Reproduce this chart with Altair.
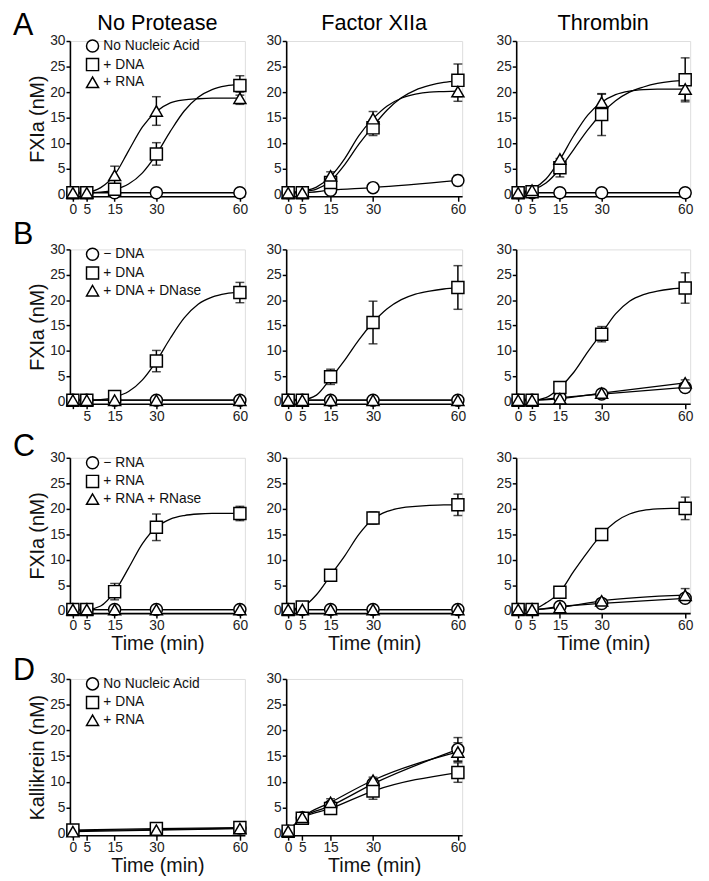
import altair as alt
import pandas as pd

# ---------------- data ----------------
TIMES = [0, 5, 15, 30, 60]
TIMES_D1 = [0, 30, 60]
CURVE_T = [0, 5, 10, 15, 20, 25, 30, 35, 40, 45, 50, 55, 60]
X_TICKS = [0, 5, 15, 30, 60]
Y_TICKS = [0, 5, 10, 15, 20, 25, 30]

COL_TITLES = ["No Protease", "Factor XIIa", "Thrombin"]
ROW_LETTERS = ["A", "B", "C", "D"]
LEG_A = ["No Nucleic Acid", "+ DNA", "+ RNA"]
LEG_B = ["\u2212 DNA", "+ DNA", "+ DNA + DNase"]
LEG_C = ["\u2212 RNA", "+ RNA", "+ RNA + RNase"]
LEG_D = ["No Nucleic Acid", "+ DNA", "+ RNA"]
Y_TITLE_FXIA = "FXIa (nM)"
Y_TITLE_KAL = "Kallikrein (nM)"
X_TITLE = "Time (min)"

FLAT = [0.3, 0.3, 0.3, 0.3, 0.3]
NOERR = [0, 0, 0, 0, 0]

# Row A
A1_CIRCLE, A1_CIRCLE_ERR = FLAT, NOERR
A1_SQUARE = [0.3, 0.3, 1.0, 7.9, 21.3]
A1_SQUARE_ERR = [0, 0, 0, 2.2, 1.9]
A1_TRI = [0.3, 0.3, 3.7, 16.3, 18.8]
A1_TRI_ERR = [0, 0, 1.8, 2.8, 1.2]
A1_SQUARE_FIT = [0.3, 0.3, 0.4, 0.9, 2.0, 4.2, 7.8, 12.3, 16.3, 19.0, 20.5, 21.2, 21.5]
A1_TRI_FIT = [0.3, 0.4, 1.3, 3.8, 8.5, 13.2, 16.2, 17.9, 18.5, 18.7, 18.8, 18.8, 18.8]

A2_CIRCLE = [0.3, 0.3, 0.8, 1.3, 2.7]
A2_CIRCLE_ERR = [0, 0, 0, 0, 1.0]
A2_SQUARE = [0.3, 0.3, 2.3, 13.0, 22.3]
A2_SQUARE_ERR = [0, 0, 0.8, 1.5, 3.2]
A2_TRI = [0.3, 0.3, 3.6, 14.8, 20.1]
A2_TRI_ERR = [0, 0, 0.8, 1.4, 1.9]
A2_SQUARE_FIT = [0.3, 0.5, 1.0, 2.6, 5.8, 9.8, 13.3, 16.5, 18.9, 20.4, 21.3, 21.9, 22.2]
A2_TRI_FIT = [0.3, 0.6, 1.4, 3.5, 7.0, 11.5, 14.8, 17.3, 18.8, 19.6, 20.0, 20.1, 20.2]

A3_CIRCLE, A3_CIRCLE_ERR = FLAT, NOERR
A3_SQUARE = [0.3, 0.5, 5.2, 15.6, 22.4]
A3_SQUARE_ERR = [0, 0, 1.8, 4.1, 4.3]
A3_TRI = [0.3, 0.8, 6.9, 18.0, 20.6]
A3_TRI_ERR = [0, 0, 0, 1.6, 2.2]
A3_SQUARE_FIT = [0.3, 0.8, 2.2, 5.0, 8.8, 12.6, 15.8, 18.3, 20.0, 21.0, 21.7, 22.1, 22.3]
A3_TRI_FIT = [0.3, 1.0, 3.0, 6.8, 11.5, 15.5, 18.0, 19.5, 20.2, 20.5, 20.6, 20.6, 20.6]

# Row B
B1_SQUARE = [0.3, 0.3, 1.0, 8.0, 21.5]
B1_SQUARE_ERR = [0, 0, 0, 2.1, 2.0]
B1_SQUARE_FIT = [0.3, 0.3, 0.4, 0.9, 2.0, 4.3, 8.0, 12.5, 16.5, 19.2, 20.6, 21.3, 21.6]

B2_SQUARE = [0.3, 0.3, 4.9, 15.6, 22.5]
B2_SQUARE_ERR = [0, 0, 1.5, 4.2, 4.3]
B2_SQUARE_FIT = [0.3, 0.4, 1.3, 4.6, 8.2, 12.2, 15.6, 18.3, 20.1, 21.2, 21.8, 22.2, 22.4]

B3_CIRCLE = [0.3, 0.3, 0.8, 1.5, 2.8]
B3_CIRCLE_ERR = [0, 0, 0, 0, 0.9]
B3_SQUARE = [0.3, 0.3, 2.8, 13.3, 22.4]
B3_SQUARE_ERR = [0, 0, 0, 1.5, 3.0]
B3_TRI = [0.3, 0.3, 0.6, 1.7, 3.7]
B3_TRI_ERR = [0, 0, 0, 0, 0.6]
B3_SQUARE_FIT = [0.3, 0.3, 0.8, 2.8, 5.8, 9.8, 13.5, 17.3, 19.8, 21.1, 21.8, 22.2, 22.4]

# Row C
C1_SQUARE = [0.3, 0.3, 3.8, 16.4, 19.1]
C1_SQUARE_ERR = [0, 0, 1.6, 2.6, 1.4]
C1_SQUARE_FIT = [0.3, 0.3, 1.0, 3.8, 8.4, 13.2, 16.4, 18.0, 18.7, 19.0, 19.1, 19.1, 19.1]

C2_SQUARE = [0.3, 0.8, 7.0, 18.2, 20.8]
C2_SQUARE_ERR = [0, 0, 0, 1.2, 2.1]
C2_SQUARE_FIT = [0.3, 0.8, 3.2, 7.0, 10.8, 15.0, 18.0, 19.5, 20.2, 20.5, 20.7, 20.8, 20.8]

C3_CIRCLE = [0.3, 0.3, 0.9, 1.5, 2.5]
C3_CIRCLE_ERR = [0, 0, 0, 0, 0.8]
C3_SQUARE = [0.3, 0.3, 3.7, 15.0, 20.1]
C3_SQUARE_ERR = [0, 0, 0, 0, 2.2]
C3_TRI = [0.3, 0.3, 0.7, 2.0, 3.1]
C3_TRI_ERR = [0, 0, 0, 0, 1.3]
C3_SQUARE_FIT = [0.3, 0.3, 1.6, 3.7, 7.8, 11.6, 15.0, 17.5, 19.0, 19.7, 20.0, 20.1, 20.1]

# Row D (kallikrein)
D1_CIRCLE = [0.5, 0.7, 1.0]
D1_SQUARE = [0.6, 0.9, 1.1]
D1_TRI = [0.3, 0.6, 0.9]
D1_ERR = [0, 0, 0]

D2_CIRCLE = [0.4, 3.0, 5.3, 9.6, 16.3]
D2_CIRCLE_ERR = [0, 0, 0, 0, 2.3]
D2_SQUARE = [0.4, 2.9, 4.8, 8.2, 11.8]
D2_SQUARE_ERR = [0, 0, 0.9, 1.6, 1.9]
D2_TRI = [0.4, 3.1, 6.0, 10.3, 15.8]
D2_TRI_ERR = [0, 0, 0.7, 0.6, 1.8]

# ---------------- layout ----------------
FONT = "Liberation Sans"
COL_W = [178, 179, 177]
COL_XDOM = [[-1.06, 61.8], [-0.7, 61.5], [-0.7, 61.8]]
COL_L = [62, 30, 30]
COL_R = [10, 23, 10]
ROW_H = [158, 157, 158, 159]
ROW_T = [31, 31, 28, 24]
ROW_B = [21, 25, 41, 30]
LETTER_Y = [-6, -5, -2, 1]
SHAPES = ["circle", "square", "triangle-up"]


def panel(r, c, times, series, fits, labels, legend=False, y_title=None,
          x_title=None, col_title=None, letter=None, hide_zero=False):
    W, H = COL_W[c], ROW_H[r]
    pts_rows, line_rows = [], []
    for lab, (vals, errs), fit in zip(labels, series, fits):
        for t, v, e in zip(times, vals, errs):
            pts_rows.append({"t": t, "y": v, "lo": v - e, "hi": v + e, "e": e, "s": lab})
        if fit is None:
            for t, v in zip(times, vals):
                line_rows.append({"t": t, "y": v, "s": lab})
        else:
            for t, v in zip(CURVE_T, fit):
                line_rows.append({"t": t, "y": v, "s": lab})
    pts = pd.DataFrame(pts_rows)
    lines = pd.DataFrame(line_rows)
    errs = pts[pts["e"] > 0]

    common = dict(domainColor="black", domainWidth=1.6, tickColor="black",
                  tickWidth=1.5, labelFont=FONT, labelFontSize=14,
                  labelColor="#222", grid=False, labelOverlap=False,
                  labelFlush=False, titleFont=FONT, titleFontSize=20,
                  titleFontWeight="normal", titleColor="#111")
    xkw = dict(common, values=X_TICKS, tickSize=5, labelPadding=1)
    if x_title:
        xkw.update(title=x_title, titleX=W / 2, titleY=21,
                   titleBaseline="top", titleAlign="center")
    else:
        xkw.update(title=None)
    if hide_zero:
        xkw.update(labelExpr="datum.value == 0 ? '' : datum.label")
    ykw = dict(common, values=Y_TICKS, tickSize=4, labelPadding=1)
    if y_title:
        ykw.update(title=y_title, titleX=-33, titleY=H / 2, titleAngle=270,
                   titleBaseline="middle", titleAlign="center")
    else:
        ykw.update(title=None)
    xaxis = alt.Axis(**xkw)
    yaxis = alt.Axis(**ykw)
    xs = alt.Scale(domain=COL_XDOM[c], nice=False, zero=False)
    ys = alt.Scale(domain=[-0.4, 30], nice=False, zero=False)

    one = pd.DataFrame({"k": [0]})
    frame = alt.Chart(one).mark_rect(opacity=0).encode(
        x=alt.value(-COL_L[c]), x2=alt.value(W + COL_R[c]),
        y=alt.value(-ROW_T[r]), y2=alt.value(H + ROW_B[r]))

    line_layer = alt.Chart(lines).mark_line(
        color="black", strokeWidth=1.3, interpolate="monotone").encode(
        x=alt.X("t:Q", scale=xs, axis=xaxis),
        y=alt.Y("y:Q", scale=ys, axis=yaxis),
        detail="s:N")

    if legend:
        leg = alt.Legend(orient="none", legendX=16, legendY=-2, title=None,
                         labelFont=FONT, labelFontSize=14, labelColor="#111",
                         symbolSize=150, symbolStrokeWidth=1.5,
                         symbolOpacity=1, rowPadding=-1, padding=0,
                         labelOffset=4)
    else:
        leg = None
    pt_layer = alt.Chart(pts).mark_point(
        filled=True, color="white", stroke="black", strokeWidth=1.5,
        size=150, opacity=1).encode(
        x=alt.X("t:Q", scale=xs, axis=xaxis),
        y=alt.Y("y:Q", scale=ys, axis=yaxis),
        shape=alt.Shape("s:N", scale=alt.Scale(domain=labels, range=SHAPES),
                        legend=leg))

    layers = [frame, line_layer]
    if len(errs):
        err_layer = alt.Chart(errs).mark_errorbar(
            ticks=True, color="black", thickness=1.5, size=9).encode(
            x=alt.X("t:Q", scale=xs, axis=xaxis),
            y=alt.Y("lo:Q", scale=ys, axis=yaxis),
            y2="hi:Q")
        layers.append(err_layer)
    layers.append(pt_layer)
    if letter:
        layers.append(alt.Chart(one).mark_text(
            font=FONT, fontSize=31, align="left", baseline="alphabetic",
            color="black").encode(x=alt.value(-58), y=alt.value(LETTER_Y[r]),
                                  text=alt.value(letter)))
    if col_title:
        layers.append(alt.Chart(one).mark_text(
            font=FONT, fontSize=22, align="center", baseline="alphabetic",
            color="black").encode(x=alt.value(W / 2), y=alt.value(-11),
                                  text=alt.value(col_title)))
    return alt.layer(*layers).properties(width=W, height=H)


def resolve(ch):
    return ch.resolve_scale(x="independent", y="independent",
                            shape="independent").resolve_legend(shape="independent")


rowA = resolve(alt.hconcat(
    panel(0, 0, TIMES, [(A1_CIRCLE, A1_CIRCLE_ERR), (A1_SQUARE, A1_SQUARE_ERR), (A1_TRI, A1_TRI_ERR)],
          [None, A1_SQUARE_FIT, A1_TRI_FIT], LEG_A, legend=True, y_title=Y_TITLE_FXIA,
          col_title=COL_TITLES[0], letter=ROW_LETTERS[0]),
    panel(0, 1, TIMES, [(A2_CIRCLE, A2_CIRCLE_ERR), (A2_SQUARE, A2_SQUARE_ERR), (A2_TRI, A2_TRI_ERR)],
          [None, A2_SQUARE_FIT, A2_TRI_FIT], LEG_A, col_title=COL_TITLES[1]),
    panel(0, 2, TIMES, [(A3_CIRCLE, A3_CIRCLE_ERR), (A3_SQUARE, A3_SQUARE_ERR), (A3_TRI, A3_TRI_ERR)],
          [None, A3_SQUARE_FIT, A3_TRI_FIT], LEG_A, col_title=COL_TITLES[2]),
    spacing=0))

rowB = resolve(alt.hconcat(
    panel(1, 0, TIMES, [(FLAT, NOERR), (B1_SQUARE, B1_SQUARE_ERR), (FLAT, NOERR)],
          [None, B1_SQUARE_FIT, None], LEG_B, legend=True, y_title=Y_TITLE_FXIA,
          letter=ROW_LETTERS[1], hide_zero=True),
    panel(1, 1, TIMES, [(FLAT, NOERR), (B2_SQUARE, B2_SQUARE_ERR), (FLAT, NOERR)],
          [None, B2_SQUARE_FIT, None], LEG_B),
    panel(1, 2, TIMES, [(B3_CIRCLE, B3_CIRCLE_ERR), (B3_SQUARE, B3_SQUARE_ERR), (B3_TRI, B3_TRI_ERR)],
          [None, B3_SQUARE_FIT, None], LEG_B),
    spacing=0))

rowC = resolve(alt.hconcat(
    panel(2, 0, TIMES, [(FLAT, NOERR), (C1_SQUARE, C1_SQUARE_ERR), (FLAT, NOERR)],
          [None, C1_SQUARE_FIT, None], LEG_C, legend=True, y_title=Y_TITLE_FXIA,
          x_title=X_TITLE, letter=ROW_LETTERS[2]),
    panel(2, 1, TIMES, [(FLAT, NOERR), (C2_SQUARE, C2_SQUARE_ERR), (FLAT, NOERR)],
          [None, C2_SQUARE_FIT, None], LEG_C, x_title=X_TITLE),
    panel(2, 2, TIMES, [(C3_CIRCLE, C3_CIRCLE_ERR), (C3_SQUARE, C3_SQUARE_ERR), (C3_TRI, C3_TRI_ERR)],
          [None, C3_SQUARE_FIT, None], LEG_C, x_title=X_TITLE),
    spacing=0))

rowD = resolve(alt.hconcat(
    panel(3, 0, TIMES_D1, [(D1_CIRCLE, D1_ERR), (D1_SQUARE, D1_ERR), (D1_TRI, D1_ERR)],
          [None, None, None], LEG_D, legend=True, y_title=Y_TITLE_KAL,
          x_title=X_TITLE, letter=ROW_LETTERS[3]),
    panel(3, 1, TIMES, [(D2_CIRCLE, D2_CIRCLE_ERR), (D2_SQUARE, D2_SQUARE_ERR), (D2_TRI, D2_TRI_ERR)],
          [None, None, None], LEG_D, x_title=X_TITLE),
    spacing=0))

chart = resolve(alt.vconcat(rowA, rowB, rowC, rowD, spacing=0)).properties(
    padding={"left": 0, "top": -6, "right": 0, "bottom": 0}
).configure_view(stroke=None).configure(font=FONT)

chart.save("out.html", embed_options={"renderer": "svg", "actions": False})
